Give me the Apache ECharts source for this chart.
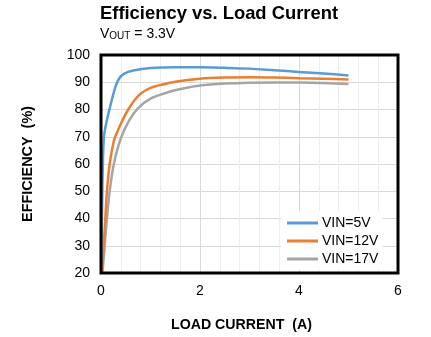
<!DOCTYPE html>
<html><head><meta charset="utf-8">
<script src="https://cdn.jsdelivr.net/npm/echarts@6/dist/echarts.min.js"></script>
<style>html,body{margin:0;padding:0;background:#fff}#c{width:431px;height:337px}</style>
</head><body><div id="c"></div>
<script>
var seriesNames = ['VIN=5V', 'VIN=12V', 'VIN=17V'];
var current5 = [0.005, 0.02, 0.04, 0.06, 0.1, 0.17, 0.24, 0.3, 0.37, 0.47, 0.65, 1.0, 1.5, 2.0, 2.5, 3.0, 3.5, 4.0, 4.5, 5.0];
var eff5     = [24, 42, 62, 70, 74.5, 80, 85, 88.8, 91.5, 93.2, 94.3, 95.2, 95.5, 95.5, 95.3, 95.0, 94.4, 93.8, 93.2, 92.5];
var current12 = [0.015, 0.054, 0.087, 0.12, 0.175, 0.26, 0.33, 0.42, 0.55, 0.68, 0.8, 1.0, 1.2, 1.5, 2.0, 2.5, 3.0, 3.5, 4.0, 4.5, 5.0];
var eff12     = [20, 30, 40, 50, 60, 68.5, 71.8, 75.5, 80, 83.5, 85.8, 87.9, 89.0, 90.2, 91.3, 91.7, 91.8, 91.7, 91.5, 91.3, 91.0];
var current17 = [0.03, 0.074, 0.12, 0.175, 0.26, 0.4, 0.57, 0.75, 1.0, 1.33, 1.66, 2.0, 2.5, 3.0, 3.5, 4.0, 4.5, 5.0];
var eff17     = [20, 30, 40, 50, 60, 69.4, 76, 80.5, 84, 86.2, 87.7, 88.8, 89.5, 89.8, 89.9, 89.9, 89.7, 89.4];
var xTicks = [0, 2, 4, 6];
var yTicks = [20, 30, 40, 50, 60, 70, 80, 90, 100];
var colors = ['#5b9bd5', '#ed7d31', '#a5a5a5'];

function pairs(xs, ys) { return xs.map(function (x, i) { return [x, ys[i]]; }); }
var allData = [pairs(current5, eff5), pairs(current12, eff12), pairs(current17, eff17)];

var chart = echarts.init(document.getElementById('c'), null, {renderer: 'canvas'});
var font = 'Liberation Sans, Arial, sans-serif';
chart.setOption({
  animation: false,
  color: colors,
  title: [{
    text: 'Efficiency vs. Load Current',
    left: 100, top: 5, padding: 0,
    textStyle: {fontFamily: font, fontWeight: 'bold', fontSize: 18.4, color: '#000'}
  }, {
    text: '{v|V}{s|OUT}{v| = 3.3V}',
    left: 100, top: 25, padding: 0,
    textStyle: {
      fontWeight: 'normal',
      rich: {
        v: {fontFamily: font, fontSize: 14, fontWeight: 'normal', color: '#000', verticalAlign: 'bottom', lineHeight: 16},
        s: {fontFamily: font, fontSize: 10, fontWeight: 'normal', color: '#000', verticalAlign: 'bottom', lineHeight: 13}
      }
    }
  }],
  grid: {left: 101, top: 55, right: 33, bottom: 60, show: true, borderColor: '#000', borderWidth: 3, backgroundColor: 'transparent', z: 5},
  legend: {
    orient: 'vertical', left: 281, top: 211,
    data: seriesNames,
    icon: 'rect', itemWidth: 31, itemHeight: 3, itemGap: 4,
    backgroundColor: '#fff', padding: [5, 4, 4, 6],
    textStyle: {fontFamily: font, fontSize: 14, color: '#000', padding: [0, 0, 0, -1]}
  },
  xAxis: {
    type: 'value', min: xTicks[0], max: xTicks[xTicks.length - 1], interval: 2,
    name: 'LOAD CURRENT  (A)', nameLocation: 'middle', nameGap: 45,
    nameTextStyle: {fontFamily: font, fontWeight: 'bold', fontSize: 14.2, color: '#000', padding: [0, 16, 0, 0]},
    axisLine: {show: false}, axisTick: {show: false},
    axisLabel: {fontFamily: font, fontSize: 14, color: '#000', margin: 11},
    splitLine: {show: true, lineStyle: {color: '#d9d9d9', width: 1}},
    minorTick: {show: false, splitNumber: 5},
    minorSplitLine: {show: true, lineStyle: {color: '#ededed', width: 1}}
  },
  yAxis: {
    type: 'value', min: yTicks[0], max: yTicks[yTicks.length - 1], interval: 10,
    name: 'EFFICIENCY  (%)', nameLocation: 'middle', nameGap: 66,
    nameTextStyle: {fontFamily: font, fontWeight: 'bold', fontSize: 14.4, color: '#000'},
    axisLine: {show: false}, axisTick: {show: false},
    axisLabel: {fontFamily: font, fontSize: 14, color: '#000', margin: 11},
    splitLine: {show: true, lineStyle: {color: '#d9d9d9', width: 1}}
  },
  series: allData.map(function (d, i) {
    return {
      name: seriesNames[i], type: 'line', data: d, showSymbol: false, symbol: 'none',
      smooth: 0.3, lineStyle: {width: 2.5, color: colors[i]}, z: 3 - i
    };
  })
});
</script></body></html>
